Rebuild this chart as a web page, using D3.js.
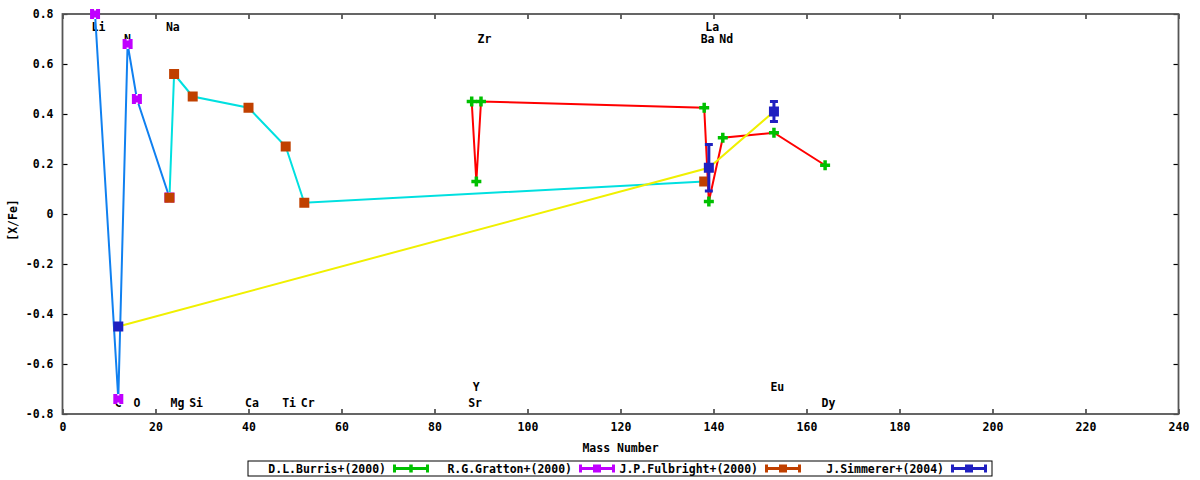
<!DOCTYPE html>
<html>
<head>
<meta charset="utf-8">
<script src="https://cdn.jsdelivr.net/npm/d3@7"></script>
<style>
  body { margin: 0; background: #fff; }
  text { font-family: "DejaVu Sans Mono", monospace; font-size: 11.5px; font-weight: bold; fill: #000; }
</style>
</head>
<body>
<script>
// Data
const burrisMass = [88, 89, 90, 138, 139, 142, 153, 164];
const burrisVal  = [0.45, 0.13, 0.45, 0.425, 0.05, 0.305, 0.325, 0.195];

const grattonMass = [7, 12, 14, 16, 23];
const grattonVal  = [0.80, -0.74, 0.68, 0.46, 0.066];

const fulbrightMass = [23, 24, 28, 40, 48, 52, 138];
const fulbrightVal  = [0.065, 0.56, 0.47, 0.425, 0.27, 0.045, 0.13];

const simmererMass = [12, 139, 153];
const simmererVal  = [-0.45, 0.185, 0.41];
const simmererErr  = [0, 0.093, 0.04];

// element labels: name, mass, row (0,1 top rows, 2,3 bottom rows)
const labelName = ["Li", "Na", "La", "N", "Zr", "Ba", "Nd", "Y", "Eu",
                   "C", "O", "Mg", "Si", "Ca", "Ti", "Cr", "Sr", "Dy"];
const labelMass = [7, 23, 139, 14, 90, 138, 142, 89, 153,
                   12, 16, 24, 28, 40, 48, 52, 88, 164];
const labelRow  = [0, 0, 0, 1, 1, 1, 1, 2, 2,
                   3, 3, 3, 3, 3, 3, 3, 3, 3];

const legendNames = ["D.L.Burris+(2000)", "R.G.Gratton+(2000)", "J.P.Fulbright+(2000)", "J.Simmerer+(2004)"];

const xTicks = [0, 20, 40, 60, 80, 100, 120, 140, 160, 180, 200, 220, 240];
const yTicks = [-0.8, -0.6, -0.4, -0.2, 0, 0.2, 0.4, 0.6, 0.8];

// Helpers
let zip = function(xs, ys, es) {
    return xs.map((m, i) => ({ mass: m, val: ys[i], err: es ? es[i] : 0 }));
}

const pointColor = { burris: "#00c000", gratton: "#c000ff", fulbright: "#c04000", simmerer: "#2020c0" };
const lineColor  = { burris: "#ff0000", gratton: "#1080f0", fulbright: "#00e0e0", simmerer: "#f0f000" };

function main() {
    const svgwidth = 1200;
    const svgheight = 480;
    const left = 62.5, right = 1178.5, top = 14, bottom = 414;

    let svg = d3.select("body").append("svg")
        .attr("width", svgwidth)
        .attr("height", svgheight)
    svg.append("rect").attr("width", svgwidth).attr("height", svgheight).attr("fill", "#fff")

    let xScale = d3.scaleLinear().domain([0, 240]).range([left, right])
    let yScale = d3.scaleLinear().domain([-0.8, 0.8]).range([bottom, top])

    const yFmt = d => d === 0 ? "0" : d3.format(".1f")(d).replace("\u2212", "-");

    // axes, ticks pointing inward
    svg.append("g")
        .attr("transform", `translate(0, ${bottom})`)
        .call(d3.axisBottom(xScale).tickValues(xTicks).tickSize(-5).tickPadding(9).tickFormat(d3.format("d")))
    svg.append("g")
        .attr("transform", `translate(0, ${top})`)
        .call(d3.axisTop(xScale).tickValues(xTicks).tickSize(-5).tickFormat(""))
    svg.append("g")
        .attr("transform", `translate(${left}, 0)`)
        .call(d3.axisLeft(yScale).tickValues(yTicks).tickSize(-5).tickPadding(9).tickFormat(yFmt))
    svg.append("g")
        .attr("transform", `translate(${right}, 0)`)
        .call(d3.axisRight(yScale).tickValues(yTicks).tickSize(-5).tickFormat(""))

    svg.selectAll(".domain").remove()
    svg.selectAll(".tick line").attr("stroke", "#000").attr("stroke-width", 1.2)
    svg.selectAll(".tick text")
        .style("font-family", "DejaVu Sans Mono, monospace")
        .style("font-size", "11.5px")
        .style("font-weight", "bold")

    svg.append("rect")
        .attr("x", left).attr("y", top)
        .attr("width", right - left).attr("height", bottom - top)
        .attr("fill", "none").attr("stroke", "#555").attr("stroke-width", 1.8)

    // axis titles
    svg.append("text")
        .attr("x", (left + right) / 2).attr("y", 448)
        .attr("dy", "0.35em").attr("text-anchor", "middle")
        .text("Mass Number")
    svg.append("text")
        .attr("transform", "translate(13, 220) rotate(-90)")
        .attr("dy", "0.35em").attr("text-anchor", "middle")
        .text("[X/Fe]")

    // element labels
    const rowVal = [0.75, 0.702, -0.69, -0.756];
    svg.selectAll(".elabel")
        .data(labelName).enter()
            .append("text")
        .attr("class", "elabel")
        .attr("x", (d, i) => xScale(labelMass[i]) - 3.5)
        .attr("y", (d, i) => yScale(rowVal[labelRow[i]]))
        .attr("dy", "0.35em")
        .text(d => d)

    const series = [
        { key: "burris", data: zip(burrisMass, burrisVal) },
        { key: "gratton", data: zip(grattonMass, grattonVal) },
        { key: "fulbright", data: zip(fulbrightMass, fulbrightVal) },
        { key: "simmerer", data: zip(simmererMass, simmererVal, simmererErr) }
    ];

    let line = d3.line().x(d => xScale(d.mass)).y(d => yScale(d.val))

    // connecting lines
    series.forEach(s => {
        svg.append("path")
            .datum(s.data)
            .attr("d", line)
            .attr("fill", "none")
            .attr("stroke", lineColor[s.key])
            .attr("stroke-width", 2)
    })

    // marker shapes
    function drawMarker(g, key, cx, cy) {
        const c = pointColor[key];
        if (key === "burris") {
            g.append("rect").attr("x", cx - 5).attr("y", cy - 1.75).attr("width", 10).attr("height", 3.5).attr("fill", c)
            g.append("rect").attr("x", cx - 1.75).attr("y", cy - 5).attr("width", 3.5).attr("height", 10).attr("fill", c)
        } else if (key === "gratton") {
            g.append("rect").attr("x", cx - 5).attr("y", cy - 5).attr("width", 10).attr("height", 10).attr("fill", c)
            g.append("rect").attr("x", cx - 1).attr("y", cy - 5).attr("width", 2).attr("height", 1.5).attr("fill", "#fff")
            g.append("rect").attr("x", cx - 1).attr("y", cy + 3.5).attr("width", 2).attr("height", 1.5).attr("fill", "#fff")
        } else {
            g.append("rect").attr("x", cx - 5).attr("y", cy - 5).attr("width", 10).attr("height", 10).attr("fill", c)
        }
    }

    // points with error bars
    series.forEach(s => {
        let g = svg.append("g")
        s.data.forEach(d => {
            const cx = xScale(d.mass), cy = yScale(d.val);
            if (d.err > 0) {
                const y1 = yScale(d.val + d.err), y2 = yScale(d.val - d.err);
                g.append("line").attr("x1", cx).attr("x2", cx).attr("y1", y1).attr("y2", y2)
                    .attr("stroke", pointColor[s.key]).attr("stroke-width", 3)
                g.append("line").attr("x1", cx - 4).attr("x2", cx + 4).attr("y1", y1).attr("y2", y1)
                    .attr("stroke", pointColor[s.key]).attr("stroke-width", 3)
                g.append("line").attr("x1", cx - 4).attr("x2", cx + 4).attr("y1", y2).attr("y2", y2)
                    .attr("stroke", pointColor[s.key]).attr("stroke-width", 3)
            }
            drawMarker(g, s.key, cx, cy)
        })
    })

    // legend
    const legX = 248, legY = 461, legW = 744, legH = 15, colW = legW / 4;
    svg.append("rect")
        .attr("x", legX).attr("y", legY).attr("width", legW).attr("height", legH)
        .attr("fill", "#fff").attr("stroke", "#000").attr("stroke-width", 1)
    legendNames.forEach((name, i) => {
        const key = series[i].key, c = pointColor[key];
        const x0 = legX + colW * i;
        const cy = legY + legH / 2;
        svg.append("text")
            .attr("x", x0 + 138).attr("y", cy)
            .attr("dy", "0.35em").attr("text-anchor", "end")
            .text(name)
        const s1 = x0 + 145, s2 = x0 + 181;
        svg.append("line").attr("x1", s1).attr("x2", s2).attr("y1", cy).attr("y2", cy)
            .attr("stroke", c).attr("stroke-width", 3)
        svg.append("line").attr("x1", s1 + 1.5).attr("x2", s1 + 1.5).attr("y1", cy - 4).attr("y2", cy + 4)
            .attr("stroke", c).attr("stroke-width", 3)
        svg.append("line").attr("x1", s2 - 1.5).attr("x2", s2 - 1.5).attr("y1", cy - 4).attr("y2", cy + 4)
            .attr("stroke", c).attr("stroke-width", 3)
        if (key === "burris") {
            svg.append("rect").attr("x", (s1 + s2) / 2 - 1.75).attr("y", cy - 4).attr("width", 3.5).attr("height", 8).attr("fill", c)
        } else {
            svg.append("rect").attr("x", (s1 + s2) / 2 - 4).attr("y", cy - 4).attr("width", 8).attr("height", 8).attr("fill", c)
        }
    })
}

main()
</script>
</body>
</html>
